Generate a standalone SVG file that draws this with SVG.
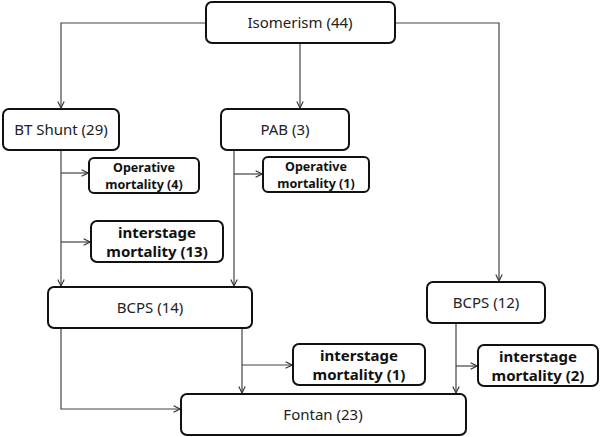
<svg xmlns="http://www.w3.org/2000/svg" width="600" height="437" viewBox="0 0 600 437">
<style>
.box{fill:#fff;stroke:#111;stroke-width:2}
.t{font-family:"Noto Sans","Open Sans",sans-serif;font-size:15px;fill:#222;text-anchor:middle}
.b{font-family:"Noto Sans","Open Sans",sans-serif;font-weight:bold;fill:#111;text-anchor:middle}
.c{fill:none;stroke:#444;stroke-width:1.2}
</style>
<defs>
<marker id="ah" viewBox="0 0 10 10" refX="9" refY="5" markerWidth="8" markerHeight="8" markerUnits="userSpaceOnUse" orient="auto">
<path d="M1,1 L9,5 L1,9" fill="none" stroke="#333" stroke-width="1.4"/>
</marker>
</defs>
<g id="connectors">
<path class="c" d="M206,23 H61 V108" marker-end="url(#ah)"/>
<path class="c" d="M300,43 V108" marker-end="url(#ah)"/>
<path class="c" d="M395,23 H499 V281" marker-end="url(#ah)"/>
<path class="c" d="M61,150 V286" marker-end="url(#ah)"/>
<path class="c" d="M61,173 H88" marker-end="url(#ah)"/>
<path class="c" d="M61,242 H90" marker-end="url(#ah)"/>
<path class="c" d="M234,150 V286" marker-end="url(#ah)"/>
<path class="c" d="M234,174 H262" marker-end="url(#ah)"/>
<path class="c" d="M61,328 V409 H180" marker-end="url(#ah)"/>
<path class="c" d="M242,328 V393" marker-end="url(#ah)"/>
<path class="c" d="M242,365 H292" marker-end="url(#ah)"/>
<path class="c" d="M456,323 V393" marker-end="url(#ah)"/>
<path class="c" d="M456,366 H477" marker-end="url(#ah)"/>
</g>
<g id="isomerism">
<rect class="box" x="206" y="2" width="189" height="41" rx="6"/>
<text class="t" x="300" y="28">Isomerism (44)</text>
</g>
<g id="bt-shunt">
<rect class="box" x="3" y="109" width="116" height="41" rx="6"/>
<text class="t" x="61" y="135">BT Shunt (29)</text>
</g>
<g id="pab">
<rect class="box" x="221" y="109" width="128" height="41" rx="6"/>
<text class="t" x="285" y="135">PAB (3)</text>
</g>
<g id="op-mort-4">
<rect class="box" x="89" y="158" width="110" height="35" rx="5"/>
<text class="b" font-size="12.5" x="144" y="172">Operative</text>
<text class="b" font-size="12.5" x="144" y="188.5">mortality (4)</text>
</g>
<g id="op-mort-1">
<rect class="box" x="263" y="157" width="106" height="35" rx="5"/>
<text class="b" font-size="12.5" x="316" y="171">Operative</text>
<text class="b" font-size="12.5" x="316" y="187.5">mortality (1)</text>
</g>
<g id="inter-mort-13">
<rect class="box" x="91" y="221" width="132" height="41" rx="6"/>
<text class="b" font-size="15" x="157" y="238">interstage</text>
<text class="b" font-size="15" x="157" y="257">mortality (13)</text>
</g>
<g id="bcps-14">
<rect class="box" x="48" y="287" width="204" height="41" rx="6"/>
<text class="t" x="150" y="313">BCPS (14)</text>
</g>
<g id="bcps-12">
<rect class="box" x="427" y="282" width="118" height="41" rx="6"/>
<text class="t" x="486" y="308">BCPS (12)</text>
</g>
<g id="inter-mort-1">
<rect class="box" x="293" y="344" width="132" height="41" rx="6"/>
<text class="b" font-size="15" x="359" y="361">interstage</text>
<text class="b" font-size="15" x="359" y="380">mortality (1)</text>
</g>
<g id="inter-mort-2">
<rect class="box" x="478" y="345" width="120" height="41" rx="6"/>
<text class="b" font-size="15" x="538" y="362">interstage</text>
<text class="b" font-size="15" x="538" y="381">mortality (2)</text>
</g>
<g id="fontan">
<rect class="box" x="181" y="394" width="285" height="41" rx="6"/>
<text class="t" x="323" y="420">Fontan (23)</text>
</g>
</svg>
